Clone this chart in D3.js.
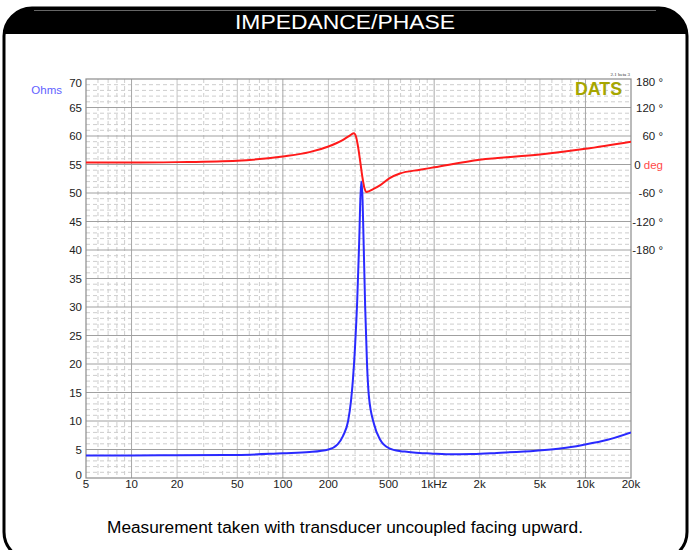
<!DOCTYPE html>
<html>
<head>
<meta charset="utf-8">
<script src="https://cdn.jsdelivr.net/npm/d3@7"></script>
<style>
  html, body { margin: 0; padding: 0; background: #fff; }
  svg { display: block; font-family: "Liberation Sans", Arial, sans-serif; }
</style>
</head>
<body>
<div class="container"></div>
<script>
// impedance magnitude
const impFreq = [5, 10, 20, 50, 100, 150, 200, 230, 250, 270, 282, 290, 300, 310, 320, 329, 335, 340, 350, 360, 370, 400, 440, 505, 600, 660, 800, 950, 1200, 1800, 2600, 4700, 7000, 9600, 14000, 20000];
const impOhm = [3.95, 3.95, 4.0, 4.05, 4.35, 4.55, 5.0, 5.9, 7.4, 10, 13.5, 17, 23, 31, 42, 52, 50, 44, 30, 20, 14.5, 9.5, 6.7, 5.2, 4.7, 4.6, 4.4, 4.3, 4.15, 4.2, 4.4, 4.8, 5.2, 5.8, 6.7, 8.0];

// phase
const phaseFreq = [5, 10, 20, 50, 100, 150, 200, 250, 280, 295, 305, 315, 325, 335, 345, 358, 372, 395, 438, 505, 594, 806, 1000, 2000, 5000, 10000, 20000];
const phaseDeg = [4, 4, 5, 8, 17, 26, 38, 52, 62, 66, 58, 35, 5, -25, -48, -58, -56, -52, -44, -29, -19, -11, -6, 10, 21, 33, 48];

const ohmTicks = [0, 5, 10, 15, 20, 25, 30, 35, 40, 45, 50, 55, 60, 65, 70];
const phaseTicks = [180, 120, 60, 0, -60, -120, -180];
const phaseLabels = ["180 °", "120 °", "60 °", "0", "-60 °", "-120 °", "-180 °"];
const freqTicks = [5, 10, 20, 50, 100, 200, 500, 1000, 2000, 5000, 10000, 20000];
const freqLabels = ["5", "10", "20", "50", "100", "200", "500", "1kHz", "2k", "5k", "10k", "20k"];

const W = 690, H = 550;
const plot = { left: 86, right: 631, top: 79, bottom: 478 };

const svg = d3.select(".container").append("svg")
  .attr("width", W)
  .attr("height", H);

// frame with black header
svg.append("rect")
  .attr("x", 4).attr("y", 8)
  .attr("width", 683).attr("height", 552)
  .attr("rx", 28).attr("ry", 28)
  .attr("fill", "#fff")
  .attr("stroke", "#000")
  .attr("stroke-width", 3);

svg.append("clipPath").attr("id", "frameClip")
  .append("rect")
  .attr("x", 4).attr("y", 8)
  .attr("width", 683).attr("height", 552)
  .attr("rx", 28).attr("ry", 28);

svg.append("rect")
  .attr("clip-path", "url(#frameClip)")
  .attr("x", 0).attr("y", 0)
  .attr("width", W).attr("height", 34)
  .attr("fill", "#000");

svg.append("line")
  .attr("x1", 34).attr("x2", 656)
  .attr("y1", 10.5).attr("y2", 10.5)
  .attr("stroke", "#666")
  .attr("stroke-width", 1);

svg.append("text")
  .attr("x", 345).attr("y", 29)
  .attr("text-anchor", "middle")
  .attr("font-size", 21)
  .attr("textLength", 220)
  .attr("lengthAdjust", "spacingAndGlyphs")
  .attr("fill", "#fff")
  .text("IMPEDANCE/PHASE");

// scales
const x = d3.scaleLog()
  .domain([5, 20000])
  .range([plot.left, plot.right]);

const y = d3.scaleLinear()
  .domain([0, 70])
  .range([plot.bottom, plot.top]);

// phase axis: 0 deg sits on 55 ohms, 60 deg per 5 ohms
const yPhase = d3.scaleLinear()
  .domain([-180, 180])
  .range([y(55) + 85.5, y(55) - 85.5]);

// grid
const grid = svg.append("g");

const minorFreq = [];
[1, 10, 100, 1000, 10000].forEach(dec => {
  for (let m = 1; m < 10; m++) {
    const f = m * dec;
    if (f > 5 && f < 20000 && ![1, 2, 5].includes(m)) minorFreq.push(f);
  }
});

grid.selectAll(".vminor")
  .data(minorFreq)
  .enter().append("line")
  .attr("x1", d => x(d)).attr("x2", d => x(d))
  .attr("y1", plot.top).attr("y2", plot.bottom)
  .attr("stroke", "#cdcdcd")
  .attr("stroke-dasharray", "4,3");

grid.selectAll(".hminor")
  .data(d3.range(1, 70).filter(v => v % 5 !== 0))
  .enter().append("line")
  .attr("x1", plot.left).attr("x2", plot.right)
  .attr("y1", d => y(d)).attr("y2", d => y(d))
  .attr("stroke", "#cdcdcd")
  .attr("stroke-dasharray", "4,3");

grid.selectAll(".vmajor")
  .data(freqTicks.slice(1, -1))
  .enter().append("line")
  .attr("x1", d => x(d)).attr("x2", d => x(d))
  .attr("y1", plot.top).attr("y2", plot.bottom)
  .attr("stroke", d => [10, 100, 1000, 10000].includes(d) ? "#a8a8a8" : "#c4c4c4");

grid.selectAll(".hmajor")
  .data(ohmTicks.slice(1, -1))
  .enter().append("line")
  .attr("x1", plot.left).attr("x2", plot.right)
  .attr("y1", d => y(d)).attr("y2", d => y(d))
  .attr("stroke", "#a0a0a0");

svg.append("rect")
  .attr("x", plot.left).attr("y", plot.top)
  .attr("width", plot.right - plot.left)
  .attr("height", plot.bottom - plot.top)
  .attr("fill", "none")
  .attr("stroke", "#8c8c8c")
  .attr("stroke-width", 1.2);

// axis labels
svg.append("g")
  .selectAll("text")
  .data(ohmTicks)
  .enter().append("text")
  .attr("x", 82)
  .attr("y", d => Math.max(plot.top + 4, Math.min(plot.bottom - 3, y(d))))
  .attr("dy", "0.35em")
  .attr("text-anchor", "end")
  .attr("font-size", 11.5)
  .attr("fill", "#222")
  .text(d => d);

svg.append("g")
  .selectAll("text")
  .data(freqTicks)
  .enter().append("text")
  .attr("x", d => x(d))
  .attr("y", 488)
  .attr("text-anchor", "middle")
  .attr("font-size", 11.5)
  .attr("fill", "#222")
  .text((d, i) => freqLabels[i]);

const phaseText = svg.append("g")
  .selectAll("text")
  .data(phaseTicks)
  .enter().append("text")
  .attr("x", 663)
  .attr("y", d => Math.max(plot.top + 3, yPhase(d)))
  .attr("dy", "0.35em")
  .attr("text-anchor", "end")
  .attr("font-size", 11.5)
  .attr("fill", "#222");

phaseText.append("tspan").text((d, i) => phaseLabels[i]);
phaseText.filter(d => d === 0)
  .append("tspan")
  .attr("fill", "#ff4a4a")
  .text(" deg");

svg.append("text")
  .attr("x", 62).attr("y", 90)
  .attr("dy", "0.35em")
  .attr("text-anchor", "end")
  .attr("font-size", 11.5)
  .attr("fill", "#5f5fff")
  .text("Ohms");

svg.append("text")
  .attr("x", 622).attr("y", 95)
  .attr("text-anchor", "end")
  .attr("font-size", 18)
  .attr("font-weight", "bold")
  .attr("textLength", 47)
  .attr("lengthAdjust", "spacingAndGlyphs")
  .attr("fill", "#a6a600")
  .text("DATS");

svg.append("text")
  .attr("x", 630).attr("y", 76)
  .attr("text-anchor", "end")
  .attr("font-size", 5)
  .attr("font-family", "Liberation Serif, serif")
  .attr("fill", "#333")
  .text("2.1 beta 3");

// curves
svg.append("clipPath").attr("id", "plotClip")
  .append("rect")
  .attr("x", plot.left).attr("y", plot.top)
  .attr("width", plot.right - plot.left)
  .attr("height", plot.bottom - plot.top);

const phaseLine = d3.line()
  .x((d, i) => x(phaseFreq[i]))
  .y(d => yPhase(d))
  .curve(d3.curveMonotoneX);

const impLine = d3.line()
  .x((d, i) => x(impFreq[i]))
  .y(d => y(d))
  .curve(d3.curveMonotoneX);

svg.append("path")
  .datum(phaseDeg)
  .attr("clip-path", "url(#plotClip)")
  .attr("fill", "none")
  .attr("stroke", "#ff1a1a")
  .attr("stroke-width", 2)
  .attr("d", phaseLine);

svg.append("path")
  .datum(impOhm)
  .attr("clip-path", "url(#plotClip)")
  .attr("fill", "none")
  .attr("stroke", "#2a2aff")
  .attr("stroke-width", 2)
  .attr("d", impLine);

// caption
svg.append("text")
  .attr("x", 345).attr("y", 533)
  .attr("text-anchor", "middle")
  .attr("font-size", 16)
  .attr("textLength", 476)
  .attr("lengthAdjust", "spacingAndGlyphs")
  .attr("fill", "#000")
  .text("Measurement taken with transducer uncoupled facing upward.");
</script>
</body>
</html>
